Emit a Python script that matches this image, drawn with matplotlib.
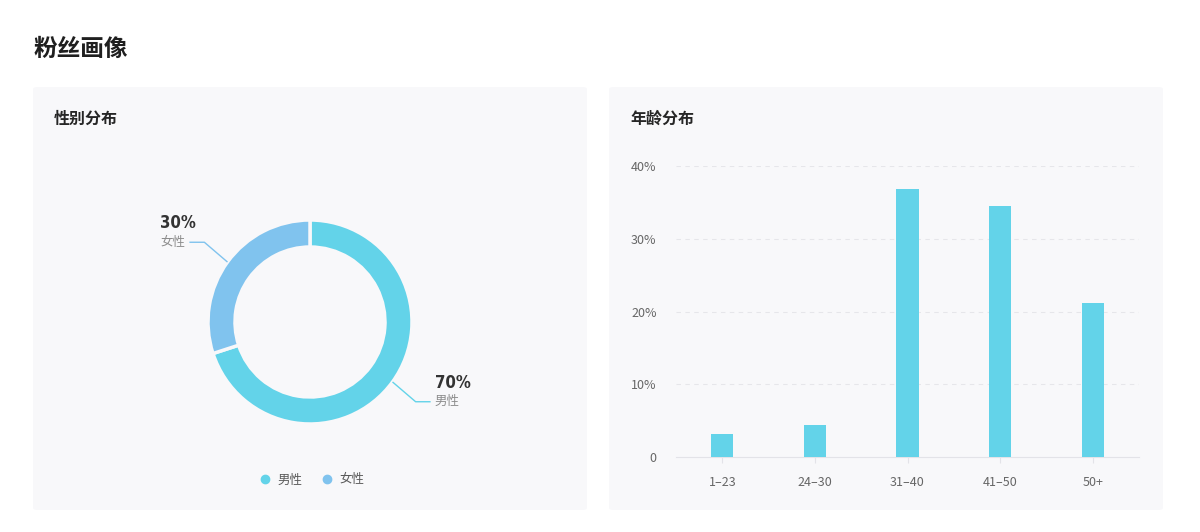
import numpy as np
import matplotlib.pyplot as plt
from matplotlib.patches import FancyBboxPatch
from matplotlib.lines import Line2D
from matplotlib import font_manager

plt.rcParams['font.family'] = ['Noto Sans CJK SC', 'DejaVu Sans']

# data
gender_labels = ['男性', '女性']
gender_values = [70, 30]
gender_colors = ['#63d3e9', '#80c3ee']

age_groups = ['1–23', '24–30', '31–40', '41–50', '50+']
age_values = [3.2, 4.4, 36.8, 34.5, 21.2]
y_ticks = [0, 10, 20, 30, 40]
y_ticklabels = ['0', '10%', '20%', '30%', '40%']

# look for a narrow bold face for the percent labels
num_font = None
for f in font_manager.fontManager.ttflist:
    if ('Narrow' in f.name or 'Condensed' in f.name or
            f.stretch in ('condensed', 'semi-condensed', 600, 500, 'extra-condensed')) \
            and f.weight in ('bold', 700):
        num_font = f.fname
        break
if num_font is not None:
    num_props = dict(fontproperties=font_manager.FontProperties(fname=num_font, size=12))
else:
    num_props = dict(fontsize=11, fontweight='bold', family=['Roboto', 'DejaVu Sans'])

W, H = 1200, 532
fig = plt.figure(figsize=(W / 100, H / 100), dpi=100)
fig.patch.set_facecolor('white')

def px(x, y):
    return x / W, 1 - y / H

def rect(x0, y0, x1, y1):
    return [x0 / W, 1 - y1 / H, (x1 - x0) / W, (y1 - y0) / H]

# panels
panel_bg = '#f8f8fa'
for x0, x1 in [(33, 587), (609, 1163)]:
    p = FancyBboxPatch((x0 / W, 1 - 510 / H), (x1 - x0) / W, (510 - 87) / H,
                       boxstyle='round,pad=0,rounding_size=0.004',
                       transform=fig.transFigure, facecolor=panel_bg,
                       edgecolor='none', zorder=-5)
    fig.patches.append(p)

fig.text(*px(33, 49), '粉丝画像', fontsize=17, fontweight='bold',
         color='#1f1f1f', va='center', ha='left')
fig.text(*px(54, 119), '性别分布', fontsize=11.5, fontweight='semibold',
         color='#262626', va='center', ha='left')
fig.text(*px(630, 119), '年龄分布', fontsize=11.5, fontweight='semibold',
         color='#262626', va='center', ha='left')

# donut
R = 102
cx, cy = 310, 322
half = 200
ax1 = fig.add_axes(rect(cx - half, cy - half, cx + half, cy + half))
wedges, _ = ax1.pie(gender_values, colors=gender_colors, startangle=90,
                    counterclock=False, radius=1,
                    wedgeprops=dict(width=27 / R, edgecolor=panel_bg, linewidth=2.5))
ax1.set_xlim(-half / R, half / R)
ax1.set_ylim(-half / R, half / R)
ax1.set_aspect('equal')
ax1.axis('off')

for w, lab, val, col in zip(wedges, gender_labels, gender_values, gender_colors):
    mid = np.deg2rad((w.theta1 + w.theta2) / 2)
    x0, y0 = np.cos(mid), np.sin(mid)
    x1, y1 = x0 * 1.28, y0 * 1.33
    side = 1 if x0 > 0 else -1
    x2 = x1 + side * 15 / R
    ax1.plot([x0, x1, x2], [y0, y1, y1], color=col, lw=1,
             solid_capstyle='butt')
    tx = x2 + 4 / R if side > 0 else x2 - 29 / R
    ax1.text(tx, y1, lab, fontsize=9, color='#8c8c8c', ha='left', va='center')
    ax1.text(tx, y1 + 19 / R, f'{val}%', color='#333333', ha='left',
             va='center', **num_props)

handles = [Line2D([], [], marker='o', ls='none', color=c, markersize=6)
           for c in gender_colors]
fig.legend(handles, gender_labels, loc='center', bbox_to_anchor=px(312, 480),
           ncol=2, frameon=False, fontsize=9, handlelength=0.8,
           handletextpad=0.6, columnspacing=1.6, labelcolor='#595959')

# bars
ax2 = fig.add_axes(rect(676, 166, 1139, 457))
ax2.set_facecolor('none')
x = np.arange(len(age_groups))
ax2.bar(x, age_values, width=0.24, color='#63d3e9', zorder=3)
ax2.set_xlim(-0.5, len(age_groups) - 0.5)
ax2.set_ylim(0, 40)
ax2.set_yticks(y_ticks)
ax2.set_yticklabels(y_ticklabels)
ax2.set_xticks(x)
ax2.set_xticklabels(age_groups)
for t in y_ticks[1:]:
    ax2.axhline(t, color='#e6e6ea', lw=0.8, ls=(0, (4, 4)), zorder=1)
for s in ['top', 'right', 'left']:
    ax2.spines[s].set_visible(False)
ax2.spines['bottom'].set_color('#e3e3e8')
ax2.tick_params(axis='y', length=0, pad=14, labelsize=9, labelcolor='#666666')
ax2.tick_params(axis='x', length=4, color='#e3e3e8', pad=10, labelsize=9,
                labelcolor='#666666')

fig.savefig('out.png', dpi=100, facecolor='white')
